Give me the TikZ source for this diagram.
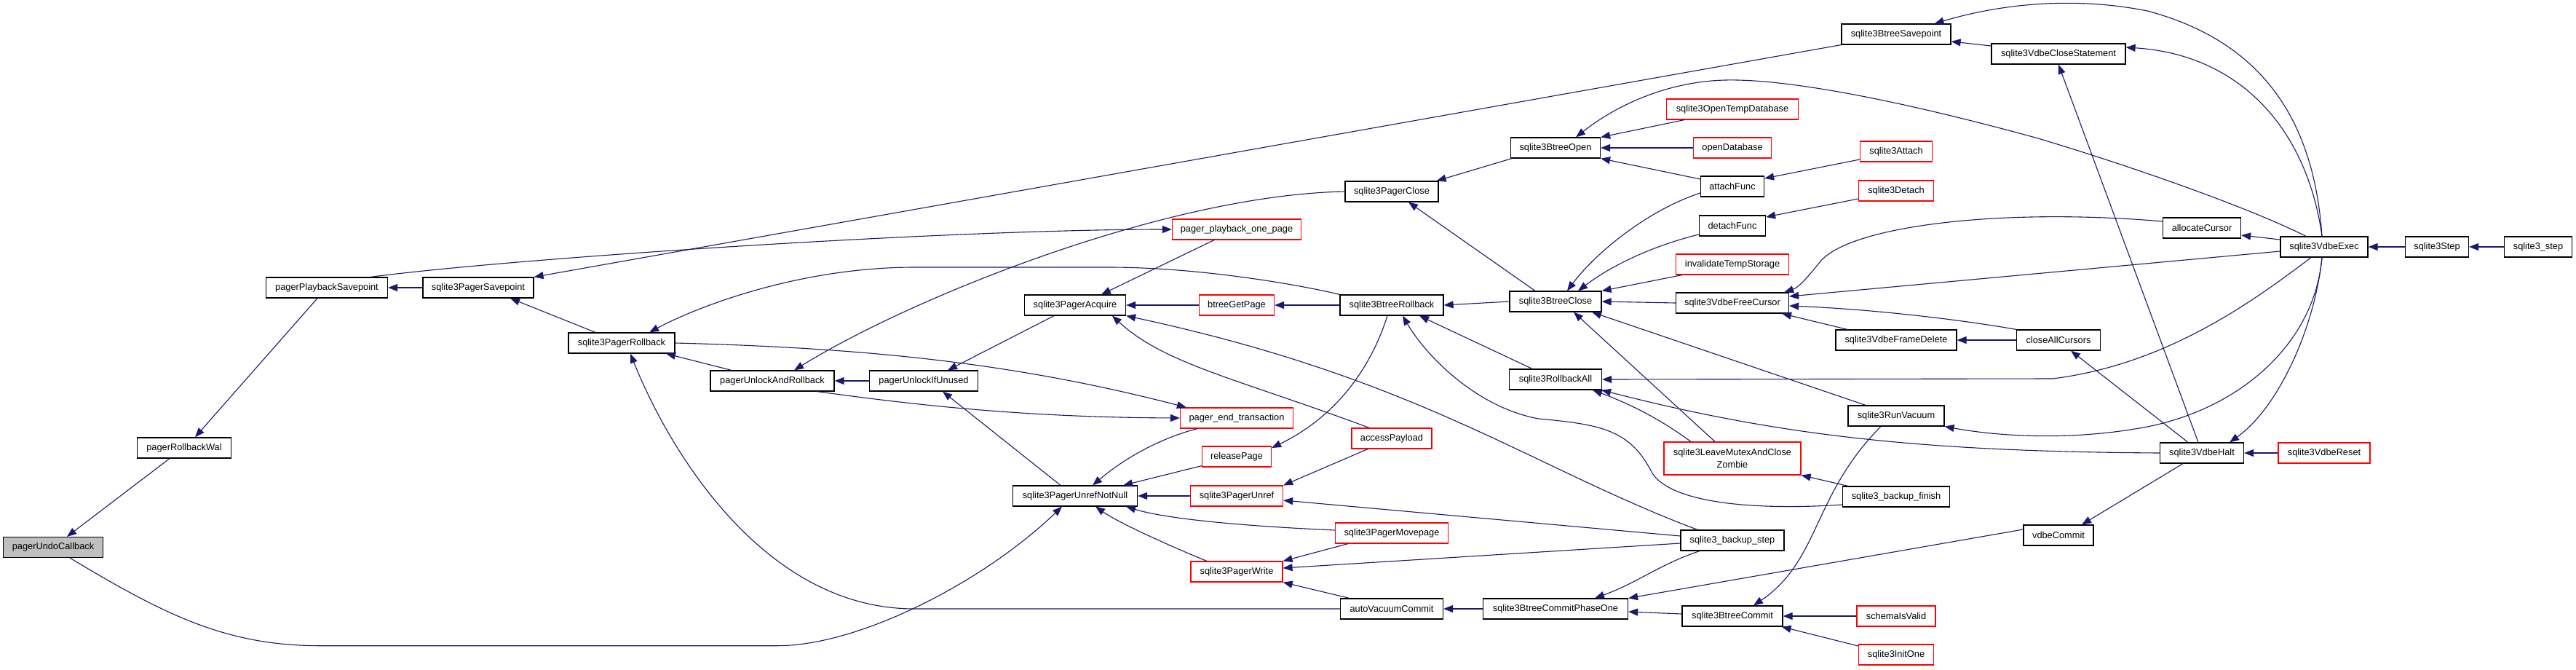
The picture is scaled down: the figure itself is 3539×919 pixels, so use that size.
\documentclass[tikz,border=0pt]{standalone}
\usepackage{fontspec}
\setmainfont{Liberation Sans}
\usepackage{tikz}
\usetikzlibrary{arrows.meta}
\definecolor{edgeblue}{HTML}{191970}
\definecolor{trunc}{HTML}{FF0000}
\definecolor{focusgray}{HTML}{BFBFBF}

\begin{document}
\begin{tikzpicture}[x=1pt, y=-1pt,
    fn/.style={draw=black, line width=1.2pt, fill=white, rectangle, inner sep=0pt,
      minimum height=28pt, font=\fontsize{12.8}{16.5}\selectfont},
    cut/.style={fn, draw=trunc},
    focus/.style={fn, fill=focusgray},
    call/.style={draw=edgeblue, line width=1.1pt, -{Triangle[length=13pt,width=10pt]}}]

    \fill[white] (0,0) rectangle (3539,919);
    \useasboundingbox (0,0) rectangle (3539,919);

    \node[focus, minimum width=137pt] (undo) at (73,751.5) {pagerUndoCallback};
    \node[fn, minimum width=129pt] (rbwal) at (253,615) {pagerRollbackWal};
    \node[fn, minimum width=167pt] (plsave) at (449,395) {pagerPlaybackSavepoint};
    \node[fn, minimum width=152pt] (psave) at (657,395) {sqlite3PagerSavepoint};
    \node[fn, minimum width=146pt] (prollback) at (854,471) {sqlite3PagerRollback};
    \node[fn, minimum width=170pt] (unlockrb) at (1061,523) {pagerUnlockAndRollback};
    \node[fn, minimum width=149pt] (unlockunused) at (1269,523) {pagerUnlockIfUnused};
    \node[fn, minimum width=139pt] (acquire) at (1477,419) {sqlite3PagerAcquire};
    \node[fn, minimum width=171pt] (unrefnn) at (1477,681) {sqlite3PagerUnrefNotNull};
    \node[cut, minimum width=177pt] (playone) at (1699,315) {pager\_playback\_one\_page};
    \node[cut, minimum width=103pt] (getpage) at (1699,419) {btreeGetPage};
    \node[cut, minimum width=155pt] (endtrans) at (1699,574) {pager\_end\_transaction};
    \node[cut, minimum width=95pt] (release) at (1699,627) {releasePage};
    \node[cut, minimum width=127pt] (unref) at (1699,681) {sqlite3PagerUnref};
    \node[cut, minimum width=126pt] (pwrite) at (1699,785) {sqlite3PagerWrite};
    \node[fn, minimum width=128pt] (pclose) at (1912,263) {sqlite3PagerClose};
    \node[fn, minimum width=142pt] (brollback) at (1912,419) {sqlite3BtreeRollback};
    \node[cut, minimum width=110pt] (payload) at (1912,602) {accessPayload};
    \node[cut, minimum width=155pt] (movepage) at (1912,732) {sqlite3PagerMovepage};
    \node[fn, minimum width=141pt] (autovac) at (1912,836) {autoVacuumCommit};
    \node[fn, minimum width=123pt] (bopen) at (2137,203) {sqlite3BtreeOpen};
    \node[fn, minimum width=126pt] (bclose) at (2137,414) {sqlite3BtreeClose};
    \node[fn, minimum width=127pt] (rollall) at (2137,521) {sqlite3RollbackAll};
    \node[fn, minimum width=199pt] (phaseone) at (2137,836) {sqlite3BtreeCommitPhaseOne};
    \node[cut, minimum width=181pt] (opentemp) at (2380,150) {sqlite3OpenTempDatabase};
    \node[cut, minimum width=107pt] (opendb) at (2380,203) {openDatabase};
    \node[fn, minimum width=87pt] (attachf) at (2380,256) {attachFunc};
    \node[fn, minimum width=91pt] (detachf) at (2380,310) {detachFunc};
    \node[cut, minimum width=155pt] (invtemp) at (2380,363) {invalidateTempStorage};
    \node[fn, minimum width=155pt] (freecur) at (2380,416) {sqlite3VdbeFreeCursor};
    \node[cut, minimum width=188pt, minimum height=45pt, align=center] (zombie) at (2380,629.5) {sqlite3LeaveMutexAndClose\\Zombie};
    \node[fn, minimum width=142pt] (bkstep) at (2380,742) {sqlite3\_backup\_step};
    \node[fn, minimum width=138pt] (bcommit) at (2380,846) {sqlite3BtreeCommit};
    \node[fn, minimum width=150pt] (bsave) at (2605,47) {sqlite3BtreeSavepoint};
    \node[cut, minimum width=99pt] (attach) at (2605,208) {sqlite3Attach};
    \node[cut, minimum width=103pt] (detach) at (2605,262) {sqlite3Detach};
    \node[fn, minimum width=166pt] (framedel) at (2605,467) {sqlite3VdbeFrameDelete};
    \node[fn, minimum width=132pt] (vacuum) at (2605,571) {sqlite3RunVacuum};
    \node[fn, minimum width=147pt] (bkfinish) at (2605,682) {sqlite3\_backup\_finish};
    \node[cut, minimum width=108pt] (schema) at (2605,846) {schemaIsValid};
    \node[cut, minimum width=103pt] (initone) at (2605,899) {sqlite3InitOne};
    \node[fn, minimum width=184pt] (closestmt) at (2828,74) {sqlite3VdbeCloseStatement};
    \node[fn, minimum width=115pt] (closeall) at (2828,467) {closeAllCursors};
    \node[fn, minimum width=96pt] (vcommit) at (2828,735) {vdbeCommit};
    \node[fn, minimum width=107pt] (alloccur) at (3025,313) {allocateCursor};
    \node[fn, minimum width=115pt] (halt) at (3025,622) {sqlite3VdbeHalt};
    \node[fn, minimum width=120pt] (exec) at (3193,339) {sqlite3VdbeExec};
    \node[cut, minimum width=126pt] (reset) at (3193,622) {sqlite3VdbeReset};
    \node[fn, minimum width=87pt] (vstep) at (3348,339) {sqlite3Step};
    \node[fn, minimum width=93pt] (sstep) at (3487,339) {sqlite3\_step};

    \draw[call] ([xshift=-20pt]rbwal.south) -- ([xshift=19pt]undo.north);
    \draw[call] ([xshift=-13pt]plsave.south) -- ([xshift=15pt]rbwal.north);
    \draw[call] (psave.west) -- (plsave.east);
    \draw[call] ([xshift=-36pt]prollback.north) -- ([xshift=44pt]psave.south);
    \draw[call] ([xshift=-56pt]unlockrb.north) -- ([xshift=61pt]prollback.south);
    \draw[call] ([xshift=23pt]undo.south) .. controls (226,844) and (310,886.7) .. (440,886.7)
      -- (1068,886.7) .. controls (1180,886.7) and (1350,800) .. ([xshift=-18pt]unrefnn.south);
    \draw[call] (brollback.north west) .. controls (1790,392) and (1650,367) .. (1524,367)
      -- (1256,367) .. controls (1100,367) and (960,420) .. ([xshift=38pt]prollback.north);
    \draw[call] (autovac.west) -- (1256,836) .. controls (1050,836) and (920,620) .. ([xshift=12pt]prollback.south);
    \draw[call] (bsave.south west) -- (psave.north east);
    \draw[call] ([xshift=60pt]plsave.north) .. controls (700,355) and (1300,315) .. (playone.west);
    \draw[call] (pclose.west) .. controls (1600,268) and (1250,410) .. ([xshift=30pt]unlockrb.north);
    \draw[call] (prollback.east) .. controls (1200,478) and (1400,500) .. ([xshift=9pt]endtrans.north west);
    \draw[call] (unlockunused.west) -- (unlockrb.east);
    \draw[call] ([xshift=-24pt]unlockrb.south east) .. controls (1250,555) and (1400,573) .. (endtrans.west);
    \draw[call] ([xshift=-31pt]playone.south) -- ([xshift=36pt]acquire.north);
    \draw[call] (getpage.west) -- (acquire.east);
    \draw[call] ([xshift=-48pt]bkstep.north) .. controls (2100,640) and (1950,520) .. (acquire.south east);
    \draw[call] ([xshift=-31pt]payload.north) .. controls (1700,520) and (1600,500) .. ([xshift=51pt]acquire.south);
    \draw[call] ([xshift=-29pt]acquire.south) -- ([xshift=33pt]unlockunused.north);
    \draw[call] (brollback.west) -- (getpage.east);
    \draw[call] ([xshift=-20pt]unrefnn.north) -- ([xshift=26pt]unlockunused.south);
    \draw[call] ([xshift=-54pt]endtrans.south) .. controls (1600,600) and (1550,625) .. ([xshift=24pt]unrefnn.north);
    \draw[call] ([yshift=2pt]release.south west) -- ([xshift=66pt]unrefnn.north);
    \draw[call] (unref.west) -- (unrefnn.east);
    \draw[call] ([yshift=4pt]movepage.west) .. controls (1700,722) and (1600,712) .. ([xshift=-16pt]unrefnn.south east);
    \draw[call] ([xshift=-41pt]pwrite.north) .. controls (1620,755) and (1540,720) .. ([xshift=28pt]unrefnn.south);
    \draw[call] ([xshift=-6pt]brollback.south) .. controls (1885,500) and (1840,570) .. ([yshift=12pt]release.east);
    \draw[call] ([xshift=-33pt]payload.south) -- (unref.north east);
    \draw[call] ([yshift=6pt]bkstep.west) -- ([yshift=-6pt]unref.east);
    \draw[call] ([xshift=18pt]movepage.south west) -- (pwrite.north east);
    \draw[call] ([yshift=-4pt]bkstep.west) -- ([yshift=5pt]pwrite.east);
    \draw[call] ([xshift=13pt]autovac.north west) -- (pwrite.south east);
    \draw[call] ([xshift=2pt]bopen.south west) -- ([xshift=-3pt]pclose.north east);
    \draw[call] ([xshift=-28pt]bclose.north) -- ([xshift=23pt]pclose.south);
    \draw[call] (bclose.west) -- (brollback.east);
    \draw[call] ([yshift=-11pt]bkfinish.west) .. controls (2430,700) and (2300,695) .. (2270,650)
      .. controls (2240,590) and (2200,583) .. (2114,575)
      .. controls (2030,560) and (1960,490) .. ([xshift=15pt]brollback.south);
    \draw[call] ([xshift=-32pt]rollall.north) -- ([xshift=38pt]brollback.south);
    \draw[call] ([xshift=-25pt]exec.north) .. controls (3100,290) and (2950,235) .. (2800,190)
      .. controls (2600,135) and (2450,108) .. (2370,110)
      .. controls (2290,112) and (2220,145) .. ([xshift=28pt]bopen.north);
    \draw[call] ([xshift=-3pt]exec.north) .. controls (3180,180) and (3120,60) .. (2950,15)
      .. controls (2850,-5) and (2750,5) .. ([xshift=-23pt]bsave.north east);
    \draw[call] ([xshift=-3pt]exec.north) .. controls (3170,180) and (3080,75) .. ([yshift=9pt]closestmt.east);
    \draw[call] ([yshift=11pt]closestmt.west) -- ([yshift=-10pt]bsave.east);
    \draw[call] ([xshift=-5pt]halt.north) -- (closestmt.south);
    \draw[call] ([xshift=25pt]opentemp.south west) -- (bopen.north east);
    \draw[call] (opendb.west) -- (bopen.east);
    \draw[call] ([yshift=10pt]attachf.west) -- (bopen.south east);
    \draw[call] ([yshift=-9pt]attachf.west) .. controls (2260,290) and (2190,350) .. ([xshift=16pt]bclose.north);
    \draw[call] ([yshift=-12pt]detachf.west) .. controls (2280,335) and (2220,360) .. ([xshift=31pt]bclose.north);
    \draw[call] ([xshift=9pt]invtemp.south west) -- (bclose.north east);
    \draw[call] (freecur.west) -- (bclose.east);
    \draw[call] ([xshift=-24pt]zombie.north) -- ([xshift=25pt]bclose.south);
    \draw[call] ([xshift=-42pt]vacuum.north) -- ([xshift=50pt]bclose.south);
    \draw[call] ([xshift=-18pt]exec.south) .. controls (3100,410) and (2980,500) .. (2820,520) -- (rollall.east);
    \draw[call] (halt.west) .. controls (2650,620) and (2450,600) .. ([xshift=-1pt]rollall.south east);
    \draw[call] ([xshift=-57pt]zombie.north) .. controls (2280,575) and (2240,555) .. ([xshift=-13pt]rollall.south east);
    \draw[call] ([yshift=-11pt]attach.west) -- ([yshift=11pt]attachf.east);
    \draw[call] ([yshift=-11pt]detach.west) -- ([yshift=12pt]detachf.east);
    \draw[call] ([yshift=9pt]alloccur.west) .. controls (2750,285) and (2540,310) .. (2500,360)
      .. controls (2480,385) and (2470,395) .. ([xshift=-7pt]freecur.north east);
    \draw[call] ([yshift=-6pt]exec.west) -- ([yshift=9pt]freecur.east);
    \draw[call] (closeall.north west) .. controls (2700,440) and (2580,425) .. ([yshift=-4pt]freecur.east);
    \draw[call] ([xshift=-67pt]framedel.north) -- ([xshift=68pt]freecur.south);
    \draw[call] (closeall.west) -- (framedel.east);
    \draw[call] ([xshift=-19pt]halt.north) -- ([xshift=17pt]closeall.south);
    \draw[call] ([xshift=-3pt]exec.south) .. controls (3180,470) and (3080,560) .. (2950,586)
      .. controls (2850,605) and (2750,600) .. (vacuum.south east);
    \draw[call] ([xshift=-21pt]vacuum.south) .. controls (2490,680) and (2500,770) .. ([xshift=29pt]bcommit.north);
    \draw[call] ([xshift=8pt]bkfinish.north west) -- (zombie.south east);
    \draw[call] ([xshift=-45pt]bkstep.south) .. controls (2280,775) and (2250,800) .. ([xshift=54pt]phaseone.north);
    \draw[call] (phaseone.west) -- (autovac.east);
    \draw[call] ([yshift=8pt]vcommit.west) -- (phaseone.north east);
    \draw[call] ([yshift=3pt]bcommit.west) -- ([yshift=-4pt]phaseone.east);
    \draw[call] (schema.west) -- (bcommit.east);
    \draw[call] ([yshift=12pt]initone.west) -- ([xshift=-2pt]bcommit.south east);
    \draw[call] ([xshift=-26pt]halt.south) -- ([xshift=32pt]vcommit.north);
    \draw[call] ([xshift=-3pt]exec.south) .. controls (3180,450) and (3130,560) .. ([xshift=38pt]halt.north);
    \draw[call] (reset.west) -- (halt.east);
    \draw[call] ([yshift=10pt]exec.west) -- ([yshift=-10pt]alloccur.east);
    \draw[call] (vstep.west) -- (exec.east);
    \draw[call] (sstep.west) -- (vstep.east);
\end{tikzpicture}
\end{document}
